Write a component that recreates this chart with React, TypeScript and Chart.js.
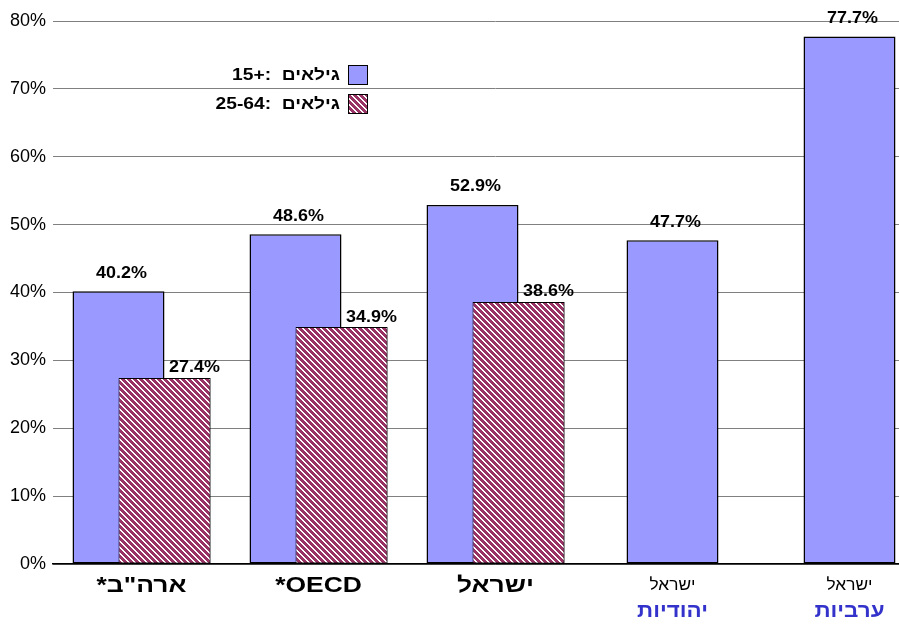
import React, { useEffect, useRef } from 'react';
import { Chart, registerables } from 'chart.js';

Chart.register(...registerables);

// ---- data ----
const categories = ['ארה"ב*', 'OECD*', 'ישראל', 'ישראל', 'ישראל'];
const subCategories = ['', '', '', 'יהודיות', 'ערביות'];
const ages15plus = [40.2, 48.6, 52.9, 47.7, 77.7];
const ages25to64: (number | null)[] = [27.4, 34.9, 38.6, null, null];
const ageWord = 'גילאים';
const ageRanges = ['15+', '25-64'];
const yMin = 0;
const yMax = 80;
const yStep = 10;

const FONT = 'Arial, "Liberation Sans", sans-serif';
const BLUE = '#9999FF';
const PLUM = '#993366';
const SX = 1.2; // horizontal text stretch of the original

function makeHatch(): CanvasPattern | string {
  const c = document.createElement('canvas');
  c.width = 6;
  c.height = 6;
  const g = c.getContext('2d');
  if (!g) return PLUM;
  const img = g.createImageData(6, 6);
  for (let y = 0; y < 6; y++) {
    for (let x = 0; x < 6; x++) {
      const on = (((x - y) % 6) + 6) % 6 < 4;
      const k = (y * 6 + x) * 4;
      img.data[k] = on ? 0x99 : 255;
      img.data[k + 1] = on ? 0x33 : 255;
      img.data[k + 2] = on ? 0x66 : 255;
      img.data[k + 3] = 255;
    }
  }
  g.putImageData(img, 0, 0);
  return g.createPattern(c, 'repeat') || PLUM;
}

const fmt = (v: number) => v.toFixed(1) + '%';

function text(
  ctx: CanvasRenderingContext2D,
  s: string,
  x: number,
  y: number,
  font: string,
  color: string,
  align: CanvasTextAlign,
  baseline: CanvasTextBaseline,
  sx: number,
  dir: 'ltr' | 'rtl' = 'rtl'
) {
  ctx.save();
  ctx.translate(x, y);
  ctx.scale(sx, 1);
  ctx.font = font;
  ctx.fillStyle = color;
  ctx.textAlign = align;
  ctx.textBaseline = baseline;
  (ctx as any).direction = dir;
  ctx.fillText(s, 0, 0);
  ctx.restore();
}

const overlayPlugin = {
  id: 'overlay',
  afterDatasetsDraw(chart: any) {
    const ctx = chart.ctx as CanvasRenderingContext2D;
    const metaB = chart.getDatasetMeta(0);
    const metaH = chart.getDatasetMeta(1);
    // hatched bars in front of the blue ones
    metaH.data.forEach((el: any, i: number) => {
      if (ages25to64[i] != null) el.draw(ctx);
    });
    const f = `bold 16px ${FONT}`;
    metaB.data.forEach((el: any, i: number) => {
      text(ctx, fmt(ages15plus[i]), el.x + 3, el.y - 10, f, '#000', 'center', 'bottom', 1.12, 'ltr');
    });
    metaH.data.forEach((el: any, i: number) => {
      const v = ages25to64[i];
      if (v == null) return;
      text(ctx, fmt(v), el.x + 30, el.y - 2, f, '#000', 'center', 'bottom', 1.12, 'ltr');
    });
  },
  afterDraw(chart: any) {
    const ctx = chart.ctx as CanvasRenderingContext2D;
    const xs = chart.scales.x;
    const { left, top, bottom } = chart.chartArea;
    // category labels
    categories.forEach((c, i) => {
      const x = xs.getPixelForValue(i);
      if (subCategories[i]) {
        text(ctx, c, x, bottom + 22, `16px ${FONT}`, '#000', 'center', 'middle', 1.08);
        text(ctx, subCategories[i], x, bottom + 47, `bold 20px ${FONT}`, '#3333CC', 'center', 'middle', 1.12);
      } else {
        text(ctx, c, x, bottom + 22, `bold 22px ${FONT}`, '#000', 'center', 'middle', 1.2);
      }
    });
    // legend
    const bx = left + 295;
    const by = top + 44;
    chart.data.datasets.forEach((ds: any, i: number) => {
      const y = by + i * 29;
      ctx.save();
      ctx.fillStyle = ds.backgroundColor;
      ctx.fillRect(bx, y, 20, 20);
      ctx.strokeStyle = '#000';
      ctx.lineWidth = 1;
      ctx.strokeRect(bx + 0.5, y + 0.5, 19, 19);
      ctx.restore();
      text(ctx, ds.label, bx - 8, y + 11, `bold 16px ${FONT}`, '#000', 'right', 'middle', SX, 'ltr');
    });
  },
};

export default function App() {
  const ref = useRef<HTMLCanvasElement>(null);
  useEffect(() => {
    if (!ref.current) return;
    const hatch = makeHatch();
    const barOpts = {
      barPercentage: 2,
      categoryPercentage: 0.5198,
      maxBarThickness: 92,
      skipNull: true,
      borderSkipped: false as const,
      borderColor: '#000',
    };
    const chart = new Chart(ref.current, {
      type: 'bar',
      data: {
        labels: categories,
        datasets: [
          { label: `${ageRanges[0]}:  ${ageWord}`, data: ages15plus, backgroundColor: BLUE, borderWidth: 1.5, ...barOpts },
          { label: `${ageRanges[1]}:  ${ageWord}`, data: ages25to64 as any, backgroundColor: hatch as any, borderWidth: 1, ...barOpts },
        ],
      },
      options: {
        animation: false,
        responsive: false,
        devicePixelRatio: 1,
        layout: { padding: { top: 21, left: 0, right: 0, bottom: 0 } },
        plugins: { legend: { display: false }, tooltip: { enabled: false } },
        scales: {
          x: {
            grid: { display: false, drawTicks: false },
            border: { display: true, color: '#000', width: 1.5 },
            ticks: { display: false },
            afterFit: (s: any) => {
              s.height = 60;
            },
          },
          y: {
            min: yMin,
            max: yMax,
            ticks: {
              stepSize: yStep,
              callback: (v: any) => v + '%',
              color: '#000',
              padding: 7,
              font: { family: FONT, size: 18 },
            },
            grid: { color: '#808080', drawTicks: false, lineWidth: 1 },
            border: { display: false },
            afterFit: (s: any) => {
              s.width = 53;
            },
          },
        },
      },
      plugins: [overlayPlugin],
    });
    return () => chart.destroy();
  }, []);
  return (
    <div style={{ position: 'fixed', left: 0, top: 0, width: 899, height: 624, overflow: 'hidden', background: '#fff' }}>
      <canvas ref={ref} width={938} height={624} style={{ display: 'block' }} />
    </div>
  );
}
